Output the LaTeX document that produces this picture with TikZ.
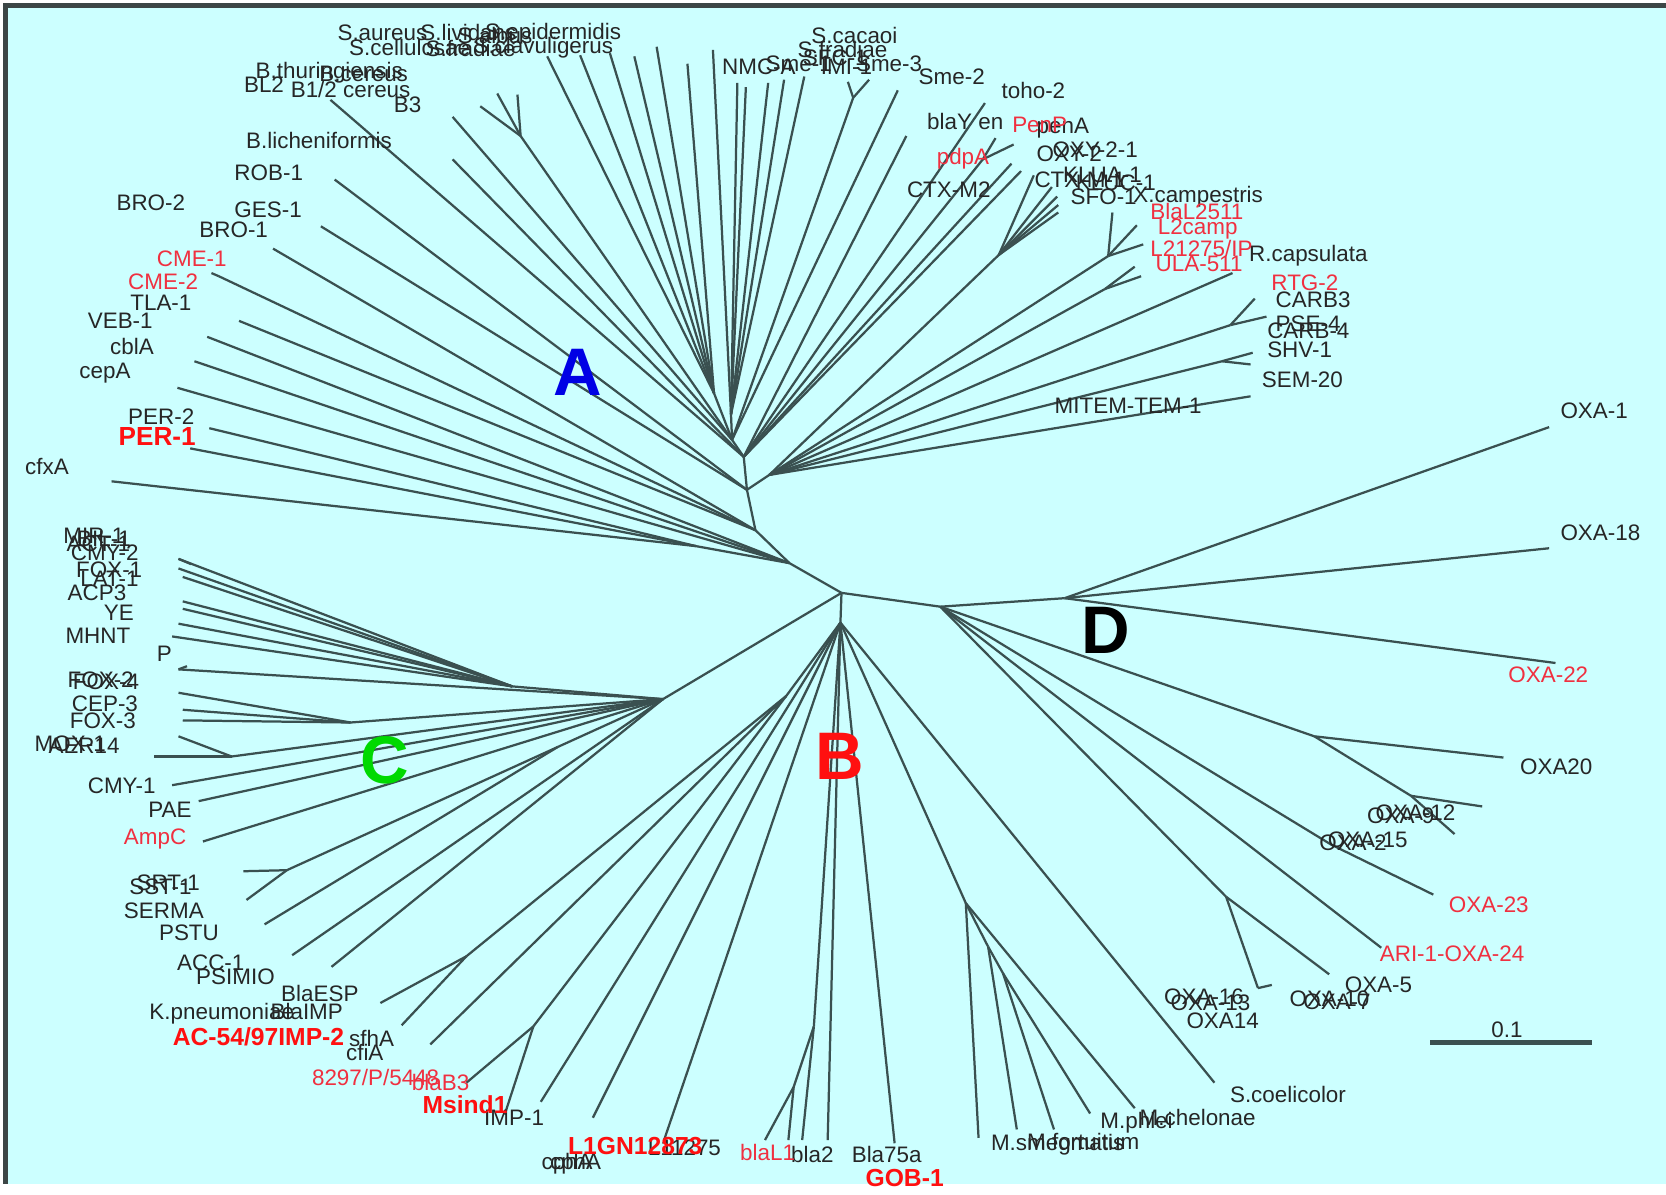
\documentclass[tikz,border=0pt]{standalone}
\usepackage{fontspec}
\setmainfont{Liberation Sans}
\usepackage{tikz}
\usetikzlibrary{positioning}
\definecolor{sea}{HTML}{CCFFFF}
\definecolor{twig}{HTML}{3A5050}
\definecolor{rim}{HTML}{3C4646}
\definecolor{pink}{HTML}{F03040}
\definecolor{hot}{HTML}{FF1010}

\begin{document}
\begin{tikzpicture}[x=0.01cm,y=-0.01cm,
  branch/.style={twig,line width=0.6pt},
  lbl/.style={anchor=west,inner sep=0pt,text=black!85,font=\fontsize{6}{6}\selectfont},
  rlbl/.style={lbl,text=pink},
  blbl/.style={lbl,text=hot,font=\fontsize{6.6}{7}\selectfont\bfseries},
  clade/.style={inner sep=0pt,font=\fontsize{18}{18}\selectfont\bfseries}]
 \useasboundingbox (0,0) rectangle (1568,1124);
 \fill[sea] (5,5) rectangle (1568,1114);
 \draw[rim,line width=1.3pt] (5,1114) -- (5,5) -- (1568,5);

 % junctions and leaf ends
 \foreach \n/\x/\y in {hub/792/558, p1/743/530, p2/711/499, p3/703/461, p4/700/430,
   t0/689/414, r0/724/447, d0/885/571, d1/1002/563, b0/791/586, c0/624/658,
   c1/525/703, c2/482/646, c3/330/680, c4/218/712, q1/655/514, sa0/672/370, nm0/688/390,
   aCfx/105/453, aPerA/179/422, aPerB/197/403, aCep/167/365, aCbl/183/340, aVeb/195/317,
   aTla/225/302, aCme/206/260, aCmeT/199/257, aBroA/257/234, aGes/302/213, aRob/315/169,
   aBli/311/94, aXa/426/110, aXb/426/150, av0/490/128, av1/452/100, av2/468/88, av3/487/89,
   as1/515/53, as2/546/52, as3/574/50, as4/597/53, as5/618/44, as6/647/60,
   an1/671/47, an2/694/78, an3/702/82, an4/723/78, an5/738/75, an6/757/72,
   anf/803/92, anf1/798/77, anf2/818/75, an8/845/85, an9/853/128,
   aToho/927/97, aBy/925/150, aBy1/937/130, aBy2/954/136, aPp1/952/154, aPp2/961/161,
   r1/940/240, r1a/973/165, r1b/990/176, r1c/995/185, r1d/996/193, r1e/996/200,
   r2/1043/241, r2a/1047/200, r2b/1070/212, r2c/1076/230,
   r3/1040/272, r3a/1068/251, r3b/1074/260, aRcap/1160/257,
   r4/1158/306, r4a/1181/281, r4b/1192/298, r5/1150/340, r5a/1179/332, r5b/1177/343, aTem/1177/373,
   cA1/168/526, cA1t/180/531, cA2/168/535, cA3/172/543, cA4/172/566, cA5/172/573,
   cA6/168/587, cA7/162/599, cP/168/630, cPt/176/627, cB1/168/652, cB2/172/668, cB3/172/678,
   cC1/168/693, cC2/145/712, cCmy/162/739, cPae/187/754, cAmp/191/792,
   cSt/270/819, cSt1/229/820, cSt2/232/847, cPstu/249/870, cAcc/275/899, cPsi/312/910,
   dO1/1458/402, dO18/1458/516, dO22/1464/624, j1/1237/693, dO20/1415/713,
   j3/1328/749, dO9/1395/759, dO2/1369/785, j2/1253/795, dO23/1349/842, dAri/1300/892,
   j4/1154/844, dO5/1251/917, j5/1184/930, j5t/1197/927,
   bA/740/655, bE/439/900, bE1/358/944, bE2/378/965, bSf/405/983, bF/502/966,
   bF1/439/1019, bF2/475/1049, bYm/509/1037, bCp/558/1052, bLg/625/1073,
   bL1/766/966, bL2/747/1023, bLa/720/1073, bLb/742/1073, bLc/755/1073, bLd/779/1073,
   bGob/842/1076, m0/909/850, m1/930/891, m2/944/916, mA/921/1071, mB/957/1063,
   mC/992/1063, mD/1026/1048, mE/1068/1043, bSc/1143/1019}
   \coordinate (\n) at (\x,\y);

 % branches
 \foreach \a/\b in {hub/p1, p1/p2, p2/p3, p3/p4, p4/t0, p3/r0, hub/d0, hub/b0, hub/c0,
   q1/p1, aCfx/q1, aPerA/q1, aPerB/q1, aCep/p1, aCbl/p1, aVeb/p1, aTla/p2, aCme/p2,
   aCmeT/aCme, aBroA/p2, aGes/p3, aRob/p3, aBli/p4, aXb/p4, aXa/t0,
   av0/t0, av1/av0, av2/av0, av3/av0,
   as1/sa0, as2/sa0, as3/sa0, as4/sa0, as5/sa0, as6/sa0, sa0/t0,
   an1/nm0, an2/nm0, an3/nm0, an4/nm0, an5/nm0, an6/nm0, nm0/t0,
   anf/t0, anf1/anf, anf2/anf, an8/t0, an9/p4,
   aToho/p4, aBy/p4, aBy1/aBy, aBy2/aBy, aPp1/p4, aPp2/p4,
   r1/r0, r1a/r1, r1b/r1, r1c/r1, r1d/r1, r1e/r1, r2/r0, r2a/r2, r2b/r2, r2c/r2,
   r3/r0, r3a/r3, r3b/r3, aRcap/r0, r4/r0, r4a/r4, r4b/r4, r5/r0, r5a/r5, r5b/r5, aTem/r0,
   c2/c0, cA1/c2, cA2/c2, cA3/c2, cA4/c2, cA5/c2, cA6/c2, cA7/c2, cA1t/cA1,
   cP/c0, cPt/cP, c3/c0, cB1/c3, cB2/c3, cB3/c3, c4/c0, cC1/c4, cC2/c4,
   cCmy/c0, cPae/c0, cAmp/c0, c1/c0, cSt/c1, cSt1/cSt, cSt2/cSt, cPstu/c1, cAcc/c0, cPsi/c0,
   d1/d0, dO1/d1, dO18/d1, dO22/d1, j1/d0, dO20/j1, j3/j1, dO9/j3, dO2/j3,
   j2/d0, dO23/j2, dAri/d0, j4/d0, dO5/j4, j5/j4, j5t/j5,
   bA/b0, bE/bA, bE1/bE, bE2/bE, bSf/bA, bF/bA, bF1/bF, bF2/bF, bYm/b0, bCp/b0, bLg/b0,
   bL1/b0, bL2/bL1, bLa/bL2, bLb/bL2, bLc/bL1, bLd/b0, bGob/b0,
   m0/b0, mA/m0, m1/m0, mB/m1, m2/m1, mC/m2, mD/m2, mE/m0, bSc/b0}
   \draw[branch] (\a) -- (\b);

 % black labels
 \foreach \n/\x/\y/\t in {tSau/317/31/S.aureus, tSli/395/31/S.lividans, tSal/430/33/S.albus,
   tSep/456/32/S.epidermidis, tScl/328/45/S.cellulosae, tSfr/400/46/S.fradiae,
   tScv/445/45/S.clavuligerus, tBth/240/68/B.thuringiensis, tBce/300/70/B.cereus,
   tBl2/229/80/BL2, tB3/370/99/B3,
   tBli/231/132/B.licheniformis, tRob/220/163/ROB-1, tBro2/109/191/BRO-2,
   tGes/220/197/GES-1, tBro1/187/216/BRO-1, tTla/122/285/TLA-1, tVeb/82/302/VEB-1,
   tCbl/103/326/cblA, tCep/74/351/cepA, tPer2/120/392/PER-2, tCfx/23/439/cfxA,
   tScc/763/33/S.cacaoi, tSfd/750/47/S.fradiae, tNmc/679/63/NMC-A, tSme1/720/60/Sme-1,
   tSfc/755/54/SFC-1, tImi/772/63/IMI-1, tSme3/805/60/Sme-3, tSme2/864/72/Sme-2,
   tToho/942/85/toho-2, tBly/872/114/blaY en, tPna/975/121/penA,
   tOxy/975/145/OXY-2, tOxyb/990/141/OXY-2-1, tCtx/853/179/CTX-M2,
   tCtx1/973/169/CTX-M-1, tKla/1000/165/KLUA-1, tKlc/1012/172/KLUC-1,
   tSfo/1007/185/SFO-1, tXca/1066/185/X.campestris, tRca/1175/241/R.capsulata,
   tCrb/1200/282/CARB3, tPse/1200/305/PSE-4, tCrb4/1192/311/CARB-4,
   tShv/1192/329/SHV-1, tSem/1187/357/SEM-20, tTem/992/382/MITEM-TEM-1,
   tO1/1468/387/OXA-1, tO18/1468/501/OXA-18, tO20/1430/722/OXA20,
   tO9/1286/768/OXA-9, tO12/1294/765/OXA-12, tO2/1241/793/OXA-2, tO15/1249/790/OXA-15,
   tO5/1265/927/OXA-5, tO10/1213/940/OXA-10, tO7/1226/943/OXA-7,
   tO16/1095/938/OXA-16, tO13/1101/944/OXA-13, tO14/1116/961/OXA14,
   tBar/1403/969/0.1, tSco/1157/1030/S.coelicolor, tMch/1072/1052/M.chelonae,
   tMph/1035/1057/M.phlei, tMfo/966/1074/M.fortuitum, tMsm/932/1077/M.smegmatis,
   tBla/801/1087/Bla75a, tBl2b/744/1087/bla2, tL1b/609/1080/L11275,
   tCph/509/1095/cphA, tCphb/517/1095/cphA, tImp/455/1052/IMP-1,
   tSfh/328/977/sfhA, tCfi/325/991/cfiA, tKpn/140/954/K.pneumoniae,
   tBim/254/952/BlaIMP, tEsp/264/935/BlaESP, tPsi/184/919/PSIMIO, tAcc/166/906/ACC-1,
   tPst/149/878/PSTU, tSer/116/857/SERMA, tSst/121/835/SST-1, tSrt/128/831/SRT-1,
   tPae/139/762/PAE, tCmy/82/740/CMY-1, tMox/32/700/MOX-1, tAer/45/702/AER14,
   tFox3/65/678/FOX-3, tCep3/67/662/CEP-3, tFox2/63/640/FOX-2, tFox4/68/642/FOX-4,
   tP/147/615/P, tMhn/61/598/MHNT, tYe/97/577/YE, tAcp/63/558/ACP3,
   tFox1/71/536/FOX-1, tLat/75/545/LAT-1, tMir/59/504/MIR-1, tAct/62/512/ACT-1,
   tCmy2/66/520/CMY-2, tBil/72/507/BIL-1}
   \node[lbl] (\n) at (\x,\y) {\t};
 \node[lbl] (tB12) at (273,84) {B1/2 cereus};

 % red labels
 \foreach \n/\x/\y/\t in {tCme1/147/244/CME-1, tCme2/120/265/CME-2, tPenP/952/118/PenP,
   tPdp/881/149/pdpA, tL25/1082/199/BlaL2511, tL2c/1089/216/L2camp,
   tUla/1087/248/ULA-511, tRtg/1196/266/RTG-2, tO22/1419/635/OXA-22,
   tO23/1363/852/OXA-23, tAri/1298/898/ARI-1-OXA-24, tBlB3/387/1019/blaB3,
   tBL1/696/1085/blaL1, tAmp/116/790/AmpC}
   \node[rlbl] (\n) at (\x,\y) {\t};
 \node[rlbl] (tL21) at (1082,234) {L21275/IP};
 \node[rlbl] (tB29) at (293,1014) {8297/P/5448};

 % bold red labels
 \node[blbl,font=\fontsize{7}{7}\selectfont\bfseries] (tPer1) at (111,411) {PER-1};
 \node[blbl] (tAc54) at (162,976) {AC-54/97IMP-2};
 \node[blbl] (tMsi) at (397,1040) {Msind1};
 \node[blbl] (tL1g) at (534,1079) {L1GN12873};
 \node[blbl] (tGob) at (814,1109) {GOB-1};

 % scale bar
 \draw[twig,line width=1.3pt] (1346,981) -- (1498,981);

 % clade letters
 \node[clade,text=blue!90!black] (cladeA) at (544,350) {A};
 \node[clade,text=hot] (cladeB) at (790,712) {B};
 \node[clade,text=green!85!black] (cladeC) at (362,716) {C};
 \node[clade,text=black] (cladeD) at (1041,593) {D};
\end{tikzpicture}
\end{document}
